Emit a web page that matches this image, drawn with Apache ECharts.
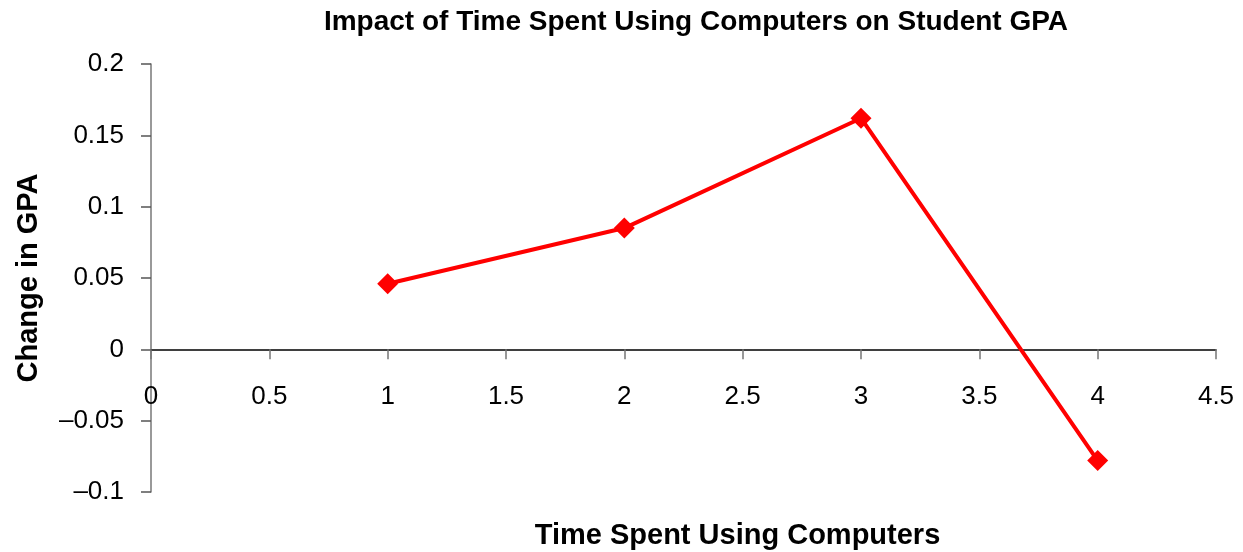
<!DOCTYPE html>
<html><head><meta charset="utf-8">
<script src="https://cdn.jsdelivr.net/npm/echarts@6/dist/echarts.min.js"></script>
<style>html,body{margin:0;padding:0;background:#fff}#c{width:1243px;height:552px}</style>
</head><body><div id="c"></div>
<script>
const titleText = 'Impact of Time Spent Using Computers on Student GPA';
const xName = 'Time Spent Using Computers';
const yName = 'Change in GPA';
const xValues = [1, 2, 3, 4];
const gpaChange = [0.046, 0.085, 0.162, -0.078];

const font = '"Liberation Sans", Arial, Helvetica, sans-serif';
const gridTop = 64, gridBottom = 60, H = 552;
const yMin = -0.1, yMax = 0.2;
const plotH = H - gridTop - gridBottom;
// move the x axis up from the grid bottom to the y = 0 line
const zeroOffset = -plotH * (0 - yMin) / (yMax - yMin);

const chart = echarts.init(document.getElementById('c'));
chart.setOption({
  animation: false,
  backgroundColor: '#fff',
  title: {
    text: titleText, left: 691, top: 3, textAlign: 'center',
    textStyle: { fontFamily: font, fontWeight: 'bold', fontSize: 28, color: '#000' }
  },
  grid: { left: 151, right: 27, top: gridTop, bottom: gridBottom, containLabel: false, outerBoundsMode: 'none' },
  xAxis: {
    type: 'value', min: 0, max: 4.5, interval: 0.5,
    offset: zeroOffset,
    name: xName, nameLocation: 'middle', nameGap: 172,
    nameTextStyle: { fontFamily: font, fontWeight: 'bold', fontSize: 29, color: '#000', padding: [0, 0, 0, 108] },
    axisLine: { onZero: false, lineStyle: { color: '#000', width: 1.5 } },
    axisTick: { show: true, length: 10, lineStyle: { color: '#777', width: 1.5 } },
    axisLabel: { margin: 34, fontFamily: font, fontSize: 26, color: '#000',
      formatter: v => String(v).replace('-', '\u2013') },
    splitLine: { show: false }
  },
  yAxis: {
    type: 'value', min: yMin, max: yMax, interval: 0.05,
    name: yName, nameLocation: 'middle', nameGap: 108, nameRotate: 90,
    nameTextStyle: { fontFamily: font, fontWeight: 'bold', fontSize: 29, color: '#000' },
    axisLine: { show: true, onZero: false, lineStyle: { color: '#777', width: 1.5 } },
    axisTick: { show: true, length: 10, lineStyle: { color: '#555', width: 1.5 } },
    axisLabel: { margin: 27, fontFamily: font, fontSize: 26, color: '#000',
      formatter: v => String(Math.round(v * 1000) / 1000).replace('-', '\u2013') },
    splitLine: { show: false }
  },
  series: [{
    type: 'line',
    data: xValues.map((x, i) => [x, gpaChange[i]]),
    symbol: 'diamond', symbolSize: 21,
    lineStyle: { color: '#ff0000', width: 4 },
    itemStyle: { color: '#ff0000' }
  }]
});
</script></body></html>
